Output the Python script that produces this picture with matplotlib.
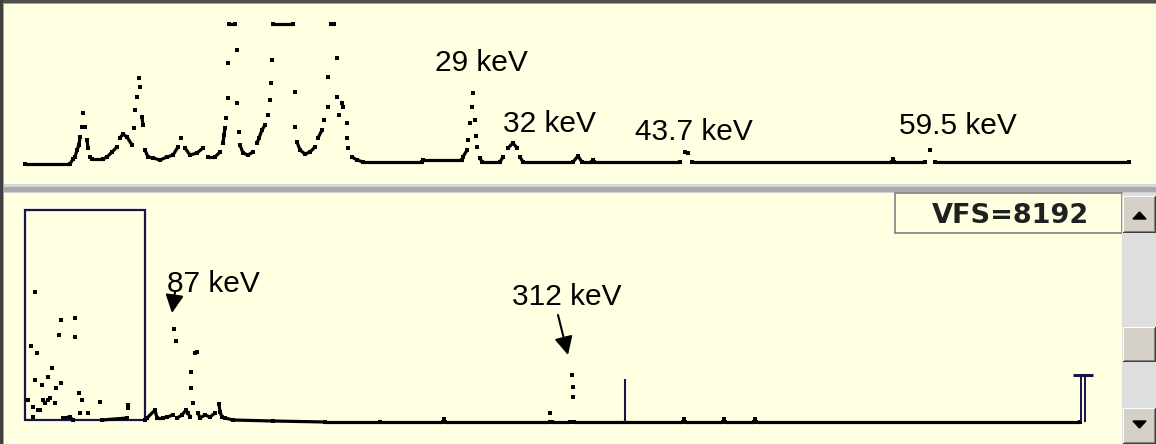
import numpy as np
import matplotlib.pyplot as plt
from matplotlib.collections import LineCollection
from matplotlib.patches import Rectangle, Polygon

# ------------------------------------------------------------
# Spectrum data (channel, counts)
# ------------------------------------------------------------
# low-energy window (top panel)
top_ch = [25, 70, 73, 75, 77, 79, 80, 82, 83, 85, 87, 88, 90, 92, 103, 107,
          112, 117, 120, 123, 127, 132, 134, 135, 137, 139, 140, 142, 143, 145,
          148, 153, 160, 167, 173, 178, 181, 185, 190, 197, 203, 208, 215, 220,
          223, 224, 225, 226, 228, 228, 229, 235, 237, 237, 239, 240, 243, 248,
          253, 257, 259, 262, 265, 268, 270, 271, 272, 273, 293, 295, 295, 297,
          300, 305, 310, 315, 318, 322, 324, 328, 328, 331, 334, 337, 337, 339,
          342, 343, 347, 347, 348, 352, 357, 363, 422, 423, 462, 463, 467, 468,
          470, 472, 473, 475, 476, 477, 480, 482, 500, 503, 508, 513, 517, 520,
          523, 573, 578, 582, 592, 593, 594, 680, 685, 688, 692, 892, 893, 894,
          925, 930, 935, 1129]
top_cnt = [20, 20, 25, 27, 34, 39, 47, 57, 71, 57, 44, 36, 27, 25, 25, 27,
           32, 37, 46, 50, 47, 39, 56, 74, 87, 106, 97, 67, 59, 34,
           27, 26, 24, 27, 29, 37, 46, 36, 29, 31, 36, 27, 27, 32,
           41, 49, 56, 66, 86, 121, 160, 160, 134, 81, 52, 39, 31, 29,
           32, 41, 46, 54, 59, 69, 84, 101, 124, 160, 160, 92, 57, 42,
           34, 30, 32, 37, 46, 54, 64, 77, 107, 160, 160, 126, 87, 69,
           81, 77, 61, 46, 36, 27, 24, 22, 22, 24, 24, 27, 34, 44,
           61, 77, 91, 64, 48, 37, 26, 22, 22, 27, 36, 41, 36, 27,
           22, 22, 28, 22, 22, 24, 22, 22, 32, 31, 22, 22, 25, 22,
           22, 34, 22, 22]

# full range (bottom panel)
bot_ch = [28, 31, 33, 33, 35, 35, 37, 38, 40, 42, 43, 45, 48, 48, 50, 52,
          55, 56, 59, 61, 61, 63, 70, 73, 75, 75, 79, 80, 82, 88, 100, 102,
          127, 128, 128, 145, 147, 155, 157, 163, 167, 173, 174, 176, 177, 182,
          186, 188, 190, 191, 191, 193, 195, 197, 198, 200, 205, 210, 215, 219,
          220, 222, 225, 233, 273, 325, 380, 443, 444, 445, 550, 550, 552, 570,
          572, 573, 573, 574, 683, 684, 685, 723, 724, 725, 754, 755, 756, 1080]
bot_cnt = [44, 98, 37, 27, 152, 64, 91, 34, 34, 59, 44, 41, 67, 44, 46, 76,
           41, 56, 109, 124, 61, 26, 27, 24, 126, 107, 51, 31, 44, 31, 42, 24,
           26, 39, 36, 24, 26, 34, 26, 26, 27, 29, 115, 103, 26, 29,
           34, 31, 27, 72, 56, 41, 91, 92, 31, 26, 29, 27, 31, 40,
           32, 27, 26, 24, 23, 22, 22, 22, 25, 22, 22, 31, 22, 22,
           69, 57, 47, 22, 22, 25, 22, 22, 25, 22, 22, 25, 22, 22]

# zoom window shown as a box on the full spectrum
zoom_lo, zoom_hi = 25, 145
zoom_cnt_lo, zoom_cnt_hi = 24, 234

# ROI marker and end-of-range marker
roi_ch, roi_cnt = 625, 65
end_ch, end_cnt = 1083, 69

top_labels = ["29 keV", "32 keV", "43.7 keV", "59.5 keV"]
top_label_pos = [(435, 113), (503, 52), (635, 44), (899, 50)]

bot_labels = ["87 keV", "312 keV"]
bot_label_pos = [(167, 152), (512, 139)]
bot_arrow_tail = [(175, 152), (558, 129)]
bot_arrow_tip = [(172, 131), (568, 89)]

vfs_text = "VFS=8192"

# ------------------------------------------------------------
# Styles
# ------------------------------------------------------------
W, H = 1156, 444
BG = "#FFFFE1"
NAVY = "#15154a"
FACE = "#D4D0C8"
LABEL_FONT = dict(family=["Liberation Sans", "DejaVu Sans"], size=21.5, color="black")


def draw_spectrum(ax, ch, cnt, max_step=8):
    # channels close in height are joined, steep parts stay as single dots
    ch = np.asarray(ch, float)
    cnt = np.asarray(cnt, float)
    pts = np.column_stack([ch, cnt])
    segs = [pts[i:i + 2] for i in range(len(pts) - 1)
            if abs(cnt[i + 1] - cnt[i]) <= max_step]
    ax.add_collection(LineCollection(segs, colors="black", linewidths=2.3,
                                     capstyle="butt", zorder=3))
    ax.plot(ch, cnt, ls="none", marker="s", ms=2.5, mew=0, color="black", zorder=3)


def rect(ax, x, y, w, h, c):
    ax.add_patch(Rectangle((x, y), w, h, facecolor=c, edgecolor="none", lw=0))


def button(ax, x, y, w, h):
    rect(ax, x, y, w, h, "#404040")
    rect(ax, x, y, w - 1, h - 1, "white")
    rect(ax, x + 1, y + 1, w - 2, h - 2, "#808080")
    rect(ax, x + 1, y + 1, w - 3, h - 3, FACE)


fig = plt.figure(figsize=(W / 100, H / 100), dpi=100, facecolor=BG)

# ------------------------------------------------------------
# Window chrome (pixel coordinates)
# ------------------------------------------------------------
chrome = fig.add_axes([0, 0, 1, 1])
chrome.set_xlim(0, W)
chrome.set_ylim(H, 0)
chrome.axis("off")

rect(chrome, 0, 0, W, 3, "#505050")
rect(chrome, 0, 3, W, 1, "#A0A0A0")
rect(chrome, 0, 0, 3, H, "#404040")
rect(chrome, 3, 3, 1, H, "#A0A0A0")
rect(chrome, 4, 184, W, 3, "#D6D6D6")
rect(chrome, 4, 187, W, 5, "#ABABAB")
rect(chrome, 4, 192, W, 1, "#D0D0D0")

# VFS box
chrome.add_patch(Rectangle((895, 193), 227, 40, facecolor=BG, edgecolor="#808080", lw=1.2))
chrome.text(1089, 223, vfs_text, ha="right", va="baseline",
            family="DejaVu Sans", weight="bold", size=19.5, color="#202020")

# scrollbar
rect(chrome, 1122, 193, W - 1122, H - 193, "#DEDEDE")
button(chrome, 1123, 196, 33, 37)
button(chrome, 1123, 327, 33, 35)
button(chrome, 1123, 408, 33, 36)
chrome.add_patch(Polygon([(1133, 219), (1146, 219), (1139.5, 212)], color="black"))
chrome.add_patch(Polygon([(1133, 421), (1146, 421), (1139.5, 428)], color="black"))

# ------------------------------------------------------------
# Top panel: low energy part of the spectrum
# ------------------------------------------------------------
ax_top = fig.add_axes([4 / W, (H - 184) / H, (W - 4) / W, 180 / H])
ax_top.set_xlim(4, W)
ax_top.set_ylim(0, 180)
ax_top.axis("off")
draw_spectrum(ax_top, top_ch, top_cnt)
for lab, (x, y) in zip(top_labels, top_label_pos):
    ax_top.text(x, y, lab, ha="left", va="baseline", **LABEL_FONT)

# ------------------------------------------------------------
# Bottom panel: full spectrum
# ------------------------------------------------------------
ax_bot = fig.add_axes([4 / W, 0, 1118 / W, 251 / H])
ax_bot.set_xlim(4, 1122)
ax_bot.set_ylim(0, 251)
ax_bot.axis("off")
ax_bot.add_patch(Rectangle((zoom_lo, zoom_cnt_lo), zoom_hi - zoom_lo,
                           zoom_cnt_hi - zoom_cnt_lo, fill=False,
                           edgecolor=NAVY, lw=1.6, zorder=2))
draw_spectrum(ax_bot, bot_ch, bot_cnt)
ax_bot.vlines(roi_ch, 22, roi_cnt, color=NAVY, lw=1.5, zorder=4)
ax_bot.vlines([end_ch - 2, end_ch + 2], 22, end_cnt, color=NAVY, lw=1.4, zorder=4)
ax_bot.hlines(end_cnt, end_ch - 10, end_ch + 10, color=NAVY, lw=2.2, zorder=4)

for lab, (x, y) in zip(bot_labels, bot_label_pos):
    ax_bot.text(x, y, lab, ha="left", va="baseline", **LABEL_FONT)
for tail, tip in zip(bot_arrow_tail, bot_arrow_tip):
    ax_bot.annotate("", xy=tip, xytext=tail,
                    arrowprops=dict(arrowstyle="-|>,head_length=1.0,head_width=0.5",
                                    mutation_scale=11, color="black", lw=1.5,
                                    shrinkA=0, shrinkB=0))

fig.savefig("out.png", dpi=100, facecolor=BG)
